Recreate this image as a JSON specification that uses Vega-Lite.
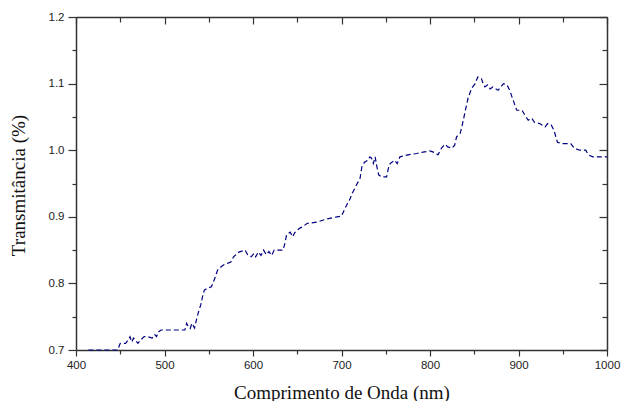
{
  "$schema": "https://vega.github.io/schema/vega-lite/v6.json",
  "width": 531,
  "height": 333,
  "autosize": {"type": "none"},
  "padding": {"left": 76, "top": 17, "right": 16, "bottom": 51},
  "background": "white",
  "config": {"view": {"stroke": null}},
  "data": {"values": [
    {"nm":414,"t":0.700},{"nm":447,"t":0.700},{"nm":450,"t":0.710},{"nm":456,"t":0.710},{"nm":459,"t":0.715},
    {"nm":461,"t":0.720},{"nm":463,"t":0.712},{"nm":465,"t":0.718},{"nm":467,"t":0.715},{"nm":470,"t":0.710},
    {"nm":473,"t":0.715},{"nm":477,"t":0.720},{"nm":481,"t":0.720},{"nm":486,"t":0.718},{"nm":489,"t":0.723},
    {"nm":491,"t":0.720},{"nm":493,"t":0.727},{"nm":496,"t":0.730},{"nm":505,"t":0.730},{"nm":515,"t":0.730},
    {"nm":523,"t":0.730},{"nm":525,"t":0.740},{"nm":527,"t":0.735},{"nm":529,"t":0.732},{"nm":531,"t":0.740},
    {"nm":534,"t":0.733},{"nm":536,"t":0.745},{"nm":538,"t":0.755},{"nm":541,"t":0.768},{"nm":543,"t":0.780},
    {"nm":545,"t":0.790},{"nm":549,"t":0.793},{"nm":553,"t":0.795},{"nm":557,"t":0.808},{"nm":560,"t":0.820},
    {"nm":564,"t":0.825},{"nm":567,"t":0.828},{"nm":571,"t":0.830},{"nm":575,"t":0.832},{"nm":578,"t":0.840},
    {"nm":584,"t":0.847},{"nm":591,"t":0.850},{"nm":594,"t":0.843},{"nm":598,"t":0.840},{"nm":601,"t":0.845},
    {"nm":603,"t":0.840},{"nm":606,"t":0.847},{"nm":609,"t":0.842},{"nm":612,"t":0.850},{"nm":615,"t":0.843},
    {"nm":618,"t":0.848},{"nm":621,"t":0.842},{"nm":624,"t":0.850},{"nm":634,"t":0.850},{"nm":636,"t":0.860},
    {"nm":638,"t":0.873},{"nm":642,"t":0.877},{"nm":645,"t":0.870},{"nm":647,"t":0.876},{"nm":650,"t":0.880},
    {"nm":653,"t":0.883},{"nm":656,"t":0.885},{"nm":661,"t":0.890},{"nm":672,"t":0.892},{"nm":684,"t":0.897},
    {"nm":695,"t":0.900},{"nm":700,"t":0.901},{"nm":702,"t":0.907},{"nm":706,"t":0.918},{"nm":709,"t":0.925},
    {"nm":712,"t":0.935},{"nm":717,"t":0.948},{"nm":721,"t":0.958},{"nm":723,"t":0.975},{"nm":726,"t":0.982},
    {"nm":730,"t":0.985},{"nm":732,"t":0.990},{"nm":734,"t":0.988},{"nm":736,"t":0.980},{"nm":738,"t":0.990},
    {"nm":740,"t":0.975},{"nm":742,"t":0.963},{"nm":745,"t":0.960},{"nm":751,"t":0.960},{"nm":753,"t":0.973},
    {"nm":755,"t":0.980},{"nm":757,"t":0.982},{"nm":760,"t":0.985},{"nm":763,"t":0.980},{"nm":766,"t":0.990},
    {"nm":775,"t":0.993},{"nm":785,"t":0.995},{"nm":792,"t":0.997},{"nm":800,"t":0.999},{"nm":806,"t":0.996},
    {"nm":809,"t":0.993},{"nm":813,"t":1.003},{"nm":817,"t":1.009},{"nm":820,"t":1.005},{"nm":825,"t":1.003},
    {"nm":828,"t":1.008},{"nm":830,"t":1.020},{"nm":834,"t":1.025},{"nm":836,"t":1.035},{"nm":840,"t":1.060},
    {"nm":843,"t":1.078},{"nm":847,"t":1.093},{"nm":851,"t":1.100},{"nm":854,"t":1.110},{"nm":858,"t":1.108},
    {"nm":860,"t":1.100},{"nm":862,"t":1.095},{"nm":865,"t":1.098},{"nm":868,"t":1.092},{"nm":871,"t":1.095},
    {"nm":877,"t":1.090},{"nm":883,"t":1.100},{"nm":887,"t":1.098},{"nm":890,"t":1.090},{"nm":894,"t":1.075},
    {"nm":898,"t":1.060},{"nm":904,"t":1.060},{"nm":907,"t":1.053},{"nm":911,"t":1.045},{"nm":915,"t":1.048},
    {"nm":918,"t":1.042},{"nm":924,"t":1.040},{"nm":930,"t":1.035},{"nm":933,"t":1.040},{"nm":937,"t":1.038},
    {"nm":940,"t":1.030},{"nm":944,"t":1.012},{"nm":949,"t":1.010},{"nm":959,"t":1.010},{"nm":963,"t":1.003},
    {"nm":969,"t":1.000},{"nm":976,"t":1.000},{"nm":979,"t":0.993},{"nm":984,"t":0.990},{"nm":1000,"t":0.990}
  ]},
  "resolve": {"axis": {"x": "independent", "y": "independent"}},
  "layer": [
    {
      "mark": {"type": "line", "color": "#000080", "strokeWidth": 1.2, "strokeDash": [5, 3], "interpolate": "linear"},
      "encoding": {
        "x": {"field": "nm", "type": "quantitative",
          "scale": {"domain": [400, 1000], "nice": false},
          "axis": {
            "orient": "bottom",
            "title": "Comprimento de Onda (nm)",
            "titleFont": "Liberation Serif", "titleFontSize": 19, "titleFontWeight": "normal", "titleColor": "#111",
            "titleBaseline": "middle", "titleX": 265.5, "titleY": 42, "titleAlign": "center",
            "values": [400,450,500,550,600,650,700,750,800,850,900,950,1000],
            "labelExpr": "datum.value % 100 === 0 ? datum.label : ''",
            "format": "d",
            "labelFont": "Liberation Sans", "labelFontSize": 11.5, "labelColor": "#222", "labelPadding": 3,
            "labelFlush": false, "labelOverlap": false,
            "tickSize": {"condition": {"test": "datum.value % 100 === 0", "value": 6}, "value": 4},
            "tickColor": "#333", "tickWidth": 1.2,
            "domainColor": "#333", "domainWidth": 1.5, "grid": false
          }},
        "y": {"field": "t", "type": "quantitative",
          "scale": {"domain": [0.7, 1.2], "nice": false, "zero": false},
          "axis": {
            "orient": "left",
            "title": "Transmitância (%)",
            "titleFont": "Liberation Serif", "titleFontSize": 19, "titleFontWeight": "normal", "titleColor": "#111",
            "titleAngle": -90, "titleBaseline": "middle", "titleAlign": "center", "titleX": -58, "titleY": 168,
            "values": [0.7,0.75,0.8,0.85,0.9,0.95,1.0,1.05,1.1,1.15,1.2],
            "format": ".1f",
            "labelExpr": "abs(datum.value*10 - round(datum.value*10)) < 0.001 ? datum.label : ''",
            "labelFont": "Liberation Sans", "labelFontSize": 11.5, "labelColor": "#222", "labelPadding": 4,
            "labelFlush": false, "labelOverlap": false,
            "tickSize": {"condition": {"test": "abs(datum.value*10 - round(datum.value*10)) < 0.001", "value": 8}, "value": 4},
            "tickColor": "#333", "tickWidth": 1.2,
            "domainColor": "#333", "domainWidth": 1.5, "grid": false
          }}
      }
    },
    {
      "mark": {"type": "line", "opacity": 0},
      "encoding": {
        "x": {"field": "nm", "type": "quantitative",
          "axis": {
            "orient": "top", "title": null, "labels": false,
            "values": [400,450,500,550,600,650,700,750,800,850,900,950,1000],
            "tickSize": {"condition": {"test": "datum.value % 100 === 0", "value": -7}, "value": -5},
            "tickColor": "#333", "tickWidth": 1.2,
            "domainColor": "#333", "domainWidth": 1.5, "grid": false
          }},
        "y": {"field": "t", "type": "quantitative",
          "axis": {
            "orient": "right", "title": null, "labels": false,
            "values": [0.7,0.75,0.8,0.85,0.9,0.95,1.0,1.05,1.1,1.15,1.2],
            "tickSize": {"condition": {"test": "abs(datum.value*10 - round(datum.value*10)) < 0.001", "value": -8}, "value": -5},
            "tickColor": "#333", "tickWidth": 1.2,
            "domainColor": "#333", "domainWidth": 1.5, "grid": false
          }}
      }
    }
  ]
}
